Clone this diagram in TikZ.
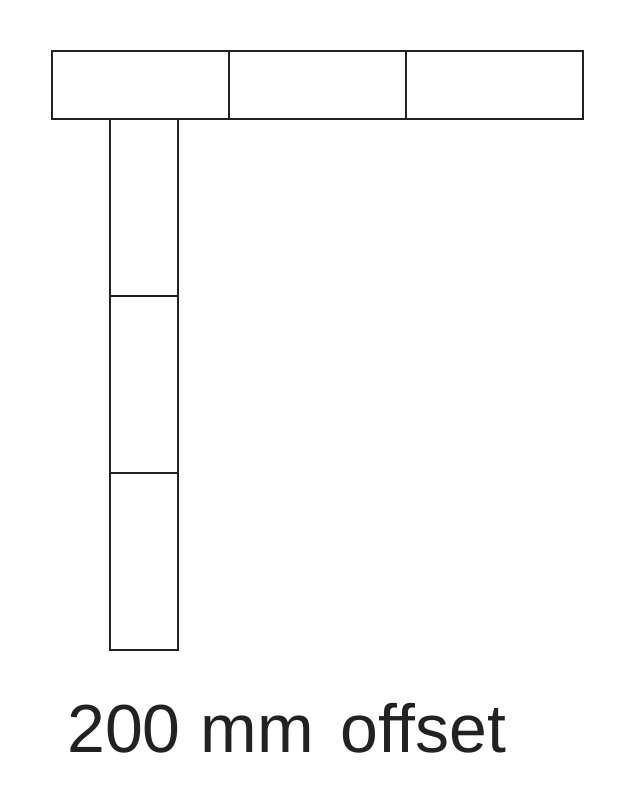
\documentclass[tikz,border=0pt]{standalone}
\usepackage{fontspec}
\setmainfont{Liberation Sans}
\usetikzlibrary{positioning}
\definecolor{linegray}{HTML}{222222}
\tikzset{
	panel/.style={draw=linegray, line width=2pt, outer sep=0pt, inner sep=0pt, minimum width=177pt, minimum height=68pt},
	panelv/.style={panel, minimum width=68pt, minimum height=177pt}
}
\begin{document}
\begin{tikzpicture}[x=1pt, y=1pt, line join=miter]
		\def\W{635} \def\H{803}
		\useasboundingbox (0,0) rectangle (\W,-\H);
		% top row
		\node[panel, anchor=north west] (top1) at (52,-51) {};
		\node[panel, right=0pt of top1] (top2) {};
		\node[panel, right=0pt of top2] (top3) {};
		% offset column
		\node[panelv, anchor=north west] (col1) at ([xshift=58pt]top1.south west) {};
		\node[panelv, below=0pt of col1] (col2) {};
		\node[panelv, below=0pt of col2] (col3) {};
		\node[anchor=base west, inner sep=0pt, text=linegray, font=\fontsize{68}{68}\selectfont] (label) at (67,-752) {200\hspace{20pt}mm\hspace{27pt}offset};
		\end{tikzpicture}
\end{document}
